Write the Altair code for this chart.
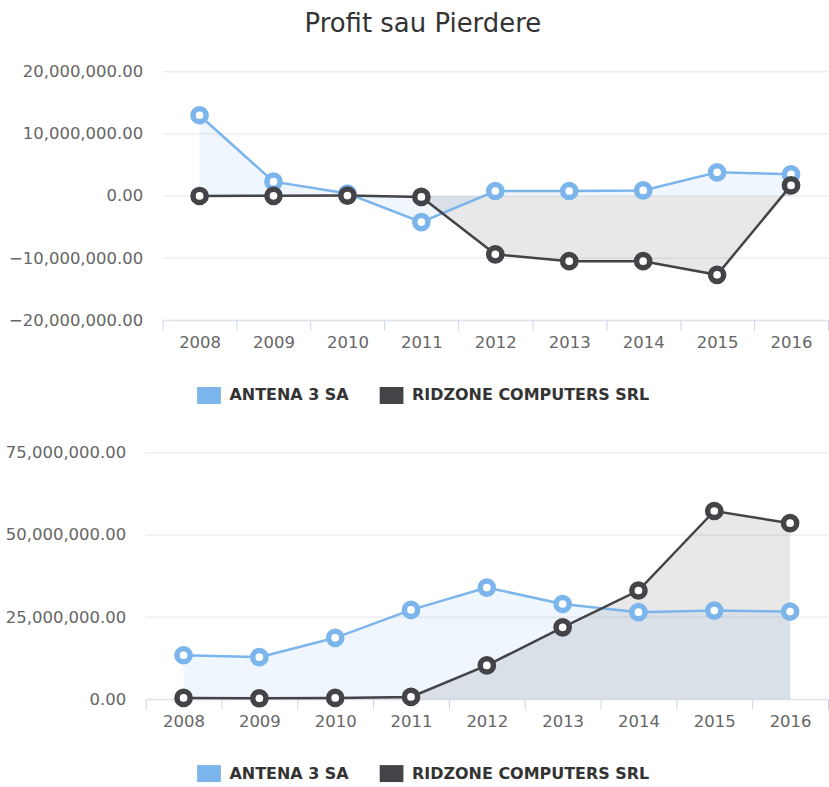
import altair as alt
import pandas as pd

years = ["2008", "2009", "2010", "2011", "2012", "2013", "2014", "2015", "2016"]
series_names = ["ANTENA 3 SA", "RIDZONE COMPUTERS SRL"]
series_colors = ["#7cb5ec", "#434348"]

# Panel 1: Profit sau Pierdere
profit_antena = [13.0e6, 2.3e6, 0.4e6, -4.2e6, 0.8e6, 0.8e6, 0.9e6, 3.8e6, 3.5e6]
profit_ridzone = [0.0, 0.03e6, 0.06e6, -0.15e6, -9.4e6, -10.5e6, -10.5e6, -12.7e6, 1.7e6]
top_ticks = [-20e6, -10e6, 0, 10e6, 20e6]

# Panel 2
second_antena = [13.4e6, 12.8e6, 18.7e6, 27.2e6, 34.0e6, 29.0e6, 26.5e6, 27.0e6, 26.7e6]
second_ridzone = [0.4e6, 0.3e6, 0.4e6, 0.7e6, 10.3e6, 21.9e6, 33.1e6, 57.3e6, 53.6e6]
bottom_ticks = [0, 25e6, 50e6, 75e6]

FONT = "DejaVu Sans"
W = 684          # shared plot width of both panels
TOP_INSET = 17   # the upper panel's plot area starts a little further right


def make_df(a_vals, b_vals):
    rows = []
    for name, vals in zip(series_names, [a_vals, b_vals]):
        for y, v in zip(years, vals):
            rows.append({"year": y, "series": name, "value": v})
    return pd.DataFrame(rows)


def panel(a_vals, b_vals, ticks, height, legend_x, legend_y, inset):
    df = make_df(a_vals, b_vals)
    cscale = alt.Scale(domain=series_names, range=series_colors)
    x = alt.X(
        "year:N",
        sort=years,
        bandPosition=0.5,
        scale=alt.Scale(type="band", paddingInner=0, paddingOuter=0, range=[inset, W]),
        axis=alt.Axis(
            title=None, labelAngle=0, tickBand="extent", grid=False,
            domainColor="#ccd6eb", tickColor="#ccd6eb", tickSize=10,
            labelPadding=4, labelColor="#666666", labelFontSize=16.5, labelFont=FONT,
        ),
    )
    yscale = alt.Scale(domain=[ticks[0], ticks[-1]], nice=False)
    y = alt.Y(
        "value:Q",
        stack=None,
        scale=yscale,
        axis=alt.Axis(
            values=ticks, format=",.2f", title=None, grid=False,
            domain=False, ticks=False, labelPadding=20 - inset, labelColor="#666666",
            labelFontSize=16.5, labelFont=FONT,
        ),
    )
    grid = alt.Chart(pd.DataFrame({"tick": ticks})).mark_rule(
        color="#e6e6e6", strokeWidth=1
    ).encode(
        y=alt.Y("tick:Q", scale=yscale),
        x=alt.value(inset),
        x2=alt.value(W),
    )
    base = alt.Chart(df)
    area = base.mark_area(opacity=0.12).encode(
        x=x, y=y,
        color=alt.Color(
            "series:N", scale=cscale,
            legend=alt.Legend(
                title=None, orient="none", legendX=legend_x, legendY=legend_y,
                direction="horizontal", symbolType="M-1.4,-1H1.4V1H-1.4Z",
                symbolSize=289, symbolOpacity=1, symbolStrokeWidth=0,
                labelFont=FONT, labelFontSize=16, labelFontWeight="bold",
                labelColor="#333333", labelOffset=12, columnPadding=30,
                padding=0, labelLimit=400,
            ),
        ),
    )
    line = base.mark_line(strokeWidth=2.5).encode(
        x=x, y=y,
        stroke=alt.Stroke("series:N", scale=cscale, legend=None),
    )
    pts = base.mark_point(shape="circle", size=175, strokeWidth=5.5, opacity=1, filled=False).encode(
        x=x, y=y,
        stroke=alt.Stroke("series:N", scale=cscale, legend=None),
        fill=alt.value("white"),
    )
    return alt.layer(grid, area, line, pts).properties(width=W, height=height)


top = panel(profit_antena, profit_ridzone, top_ticks, 249, 55, 316, TOP_INSET)
bottom = panel(second_antena, second_ridzone, bottom_ticks, 247, 55, 313, 0)

chart = alt.concat(top, bottom, columns=1, spacing=41).resolve_scale(
    color="independent", stroke="independent"
).resolve_legend(color="independent").properties(
    title=alt.Title(
        "Profit sau Pierdere", fontSize=26, font=FONT, fontWeight="normal",
        color="#333333", anchor="middle", offset=27, dx=6,
    ),
    padding={"left": 5, "top": 10, "right": 0, "bottom": 0},
).configure_view(stroke=None)

chart.save("out.html", embed_options={"renderer": "svg", "actions": False})
